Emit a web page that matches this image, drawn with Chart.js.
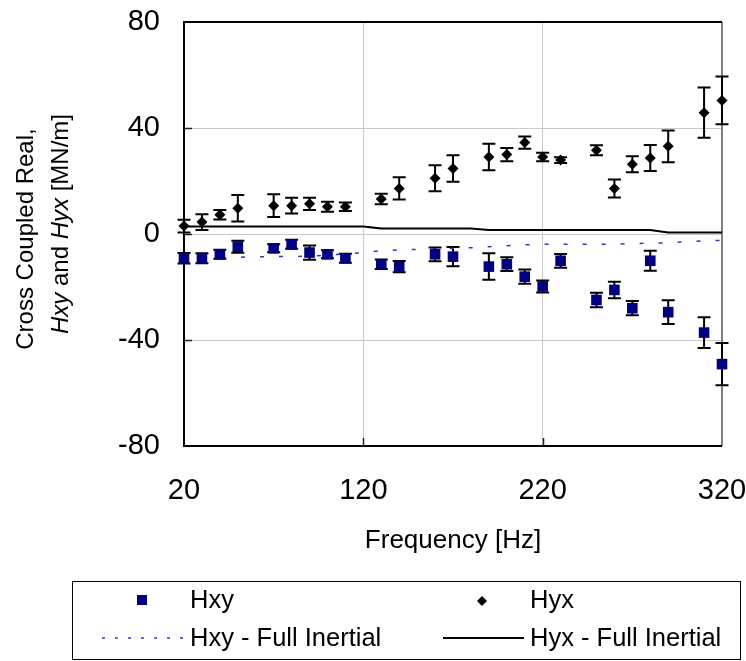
<!DOCTYPE html>
<html>
<head>
<meta charset="utf-8">
<script src="https://cdn.jsdelivr.net/npm/chart.js@4/dist/chart.umd.min.js"></script>
<style>
  html, body { margin: 0; padding: 0; background: #ffffff; }
  #wrap { width: 746px; height: 661px; }
</style>
</head>
<body>
<div id="wrap"><canvas id="c" width="746" height="661"></canvas></div>
<script>
// Measured test frequencies [Hz]
const freq = [20, 30, 40, 50, 70, 80, 90, 100, 110, 130, 140, 160, 170, 190, 200, 210, 220, 230, 250, 260, 270, 280, 290, 310, 320];

// Cross-coupled real stiffness, measured [MN/m]
const hxy = [-9.15, -9.15, -7.65, -4.8, -5.4, -3.9, -7.0, -7.65, -9.15, -11.4, -12.3, -7.65, -8.55, -12.3, -11.4, -16.1, -19.8, -10.1, -24.9, -21.1, -28.0, -10.1, -29.5, -37.2, -49.1];
const hxyErr = [2.0, 1.9, 1.7, 2.3, 1.5, 1.7, 2.7, 1.5, 1.7, 1.8, 2.1, 2.6, 3.6, 5.0, 2.6, 2.7, 2.3, 2.6, 2.7, 3.1, 2.7, 3.8, 4.5, 5.8, 8.0];

const hyx = [3.0, 4.5, 7.3, 9.7, 10.7, 10.7, 11.4, 10.3, 10.3, 13.2, 17.2, 21.0, 24.7, 29.1, 30.0, 34.5, 29.1, 27.9, 31.6, 17.2, 26.3, 28.7, 33.1, 45.8, 50.4];
const hyxErr = [2.4, 3.0, 1.8, 5.0, 4.3, 3.0, 2.3, 1.9, 1.6, 2.0, 4.2, 4.9, 5.0, 5.0, 2.5, 2.3, 1.6, 1.1, 1.9, 3.4, 3.0, 4.9, 6.0, 9.5, 9.0];

// Full inertial model predictions [MN/m]
const modelFreq = [20, 30, 40, 50, 60, 70, 80, 90, 100, 110, 120, 130, 140, 150, 160, 170, 180, 190, 200, 210, 220, 230, 240, 250, 260, 270, 280, 290, 300, 310, 320];
const hxyModel = [-9.2, -9.2, -9.0, -8.8, -8.6, -8.5, -8.5, -8.4, -8.0, -7.5, -7.0, -6.3, -6.0, -5.8, -5.6, -5.4, -5.2, -4.8, -4.4, -4.1, -3.9, -3.9, -3.9, -3.9, -3.8, -3.6, -3.5, -3.3, -2.9, -2.6, -2.4];
const hyxModel = [2.8, 2.8, 2.8, 2.8, 2.8, 2.8, 2.8, 2.8, 2.8, 2.8, 2.8, 2.1, 2.1, 2.1, 2.1, 2.1, 2.1, 1.5, 1.5, 1.5, 1.5, 1.5, 1.5, 1.5, 1.5, 1.5, 1.5, 0.6, 0.6, 0.6, 0.6];

// Axis ticks
const xTicks = [20, 120, 220, 320];
const yTicks = [-80, -40, 0, 40, 80];

const FONT = "'Liberation Sans', Arial, Helvetica, sans-serif";
const NAVY = '#000080';
const DASH_BLUE = '#3535c8';

const pts = (xs, ys) => xs.map((v, i) => ({ x: v, y: ys[i] }));

// Plot frame, inner tick marks and error bars, drawn beneath the markers
const underlay = {
  id: 'underlay',
  beforeDatasetsDraw(chart) {
    const { ctx, chartArea: a, scales: { x, y } } = chart;
    ctx.save();
    // frame
    ctx.lineWidth = 2;
    ctx.strokeStyle = '#808080';
    ctx.beginPath(); ctx.moveTo(a.right, a.top); ctx.lineTo(a.right, a.bottom); ctx.stroke();
    ctx.strokeStyle = '#000';
    ctx.beginPath();
    ctx.moveTo(a.right, a.top); ctx.lineTo(a.left, a.top); ctx.lineTo(a.left, a.bottom); ctx.lineTo(a.right, a.bottom);
    ctx.stroke();
    // inner tick marks
    ctx.lineWidth = 1.5;
    ctx.strokeStyle = '#222';
    ctx.beginPath();
    yTicks.slice(1, -1).forEach(v => {
      const py = Math.round(y.getPixelForValue(v)) + 0.5;
      ctx.moveTo(a.left, py); ctx.lineTo(a.left + 8, py);
    });
    xTicks.slice(1, -1).forEach(v => {
      const px = Math.round(x.getPixelForValue(v)) + 0.5;
      ctx.moveTo(px, a.bottom); ctx.lineTo(px, a.bottom - 8);
    });
    ctx.stroke();
    // error bars
    ctx.lineWidth = 2;
    ctx.strokeStyle = '#000';
    [[hxy, hxyErr], [hyx, hyxErr]].forEach(([vals, errs]) => {
      freq.forEach((f, i) => {
        const px = x.getPixelForValue(f);
        const top = y.getPixelForValue(vals[i] + errs[i]);
        const bot = y.getPixelForValue(vals[i] - errs[i]);
        ctx.beginPath();
        ctx.moveTo(px, top); ctx.lineTo(px, bot);
        ctx.moveTo(px - 6.5, top); ctx.lineTo(px + 6.5, top);
        ctx.moveTo(px - 6.5, bot); ctx.lineTo(px + 6.5, bot);
        ctx.stroke();
      });
    });
    ctx.restore();
  }
};

// Axis titles and the boxed legend
const annotations = {
  id: 'annotations',
  afterDraw(chart) {
    const { ctx, chartArea: a } = chart;
    ctx.save();
    ctx.fillStyle = '#000';

    // x-axis title
    ctx.font = `26px ${FONT}`;
    ctx.textAlign = 'center';
    ctx.textBaseline = 'alphabetic';
    ctx.fillText('Frequency [Hz]', (a.left + a.right) / 2, 548);

    // y-axis title, two rotated lines, variable names in italics
    ctx.save();
    ctx.translate(33, 239);
    ctx.rotate(-Math.PI / 2);
    ctx.font = `24px ${FONT}`;
    ctx.textAlign = 'center';
    ctx.fillText('Cross Coupled Real,', 0, 0);
    ctx.restore();

    const parts = [['Hxy', true], [' and ', false], ['Hyx', true], [' [MN/m]', false]];
    const fontOf = it => `${it ? 'italic ' : ''}24px ${FONT}`;
    let total = 0;
    parts.forEach(([t, it]) => { ctx.font = fontOf(it); total += ctx.measureText(t).width; });
    ctx.save();
    ctx.translate(68, 224);
    ctx.rotate(-Math.PI / 2);
    ctx.textAlign = 'left';
    let cx = -total / 2;
    parts.forEach(([t, it]) => {
      ctx.font = fontOf(it);
      ctx.fillText(t, cx, 0);
      cx += ctx.measureText(t).width;
    });
    ctx.restore();

    // legend box
    ctx.lineWidth = 1;
    ctx.strokeStyle = '#000';
    ctx.strokeRect(72.5, 581.5, 668, 78);

    ctx.font = `25.5px ${FONT}`;
    ctx.textAlign = 'left';
    // Hxy marker
    ctx.fillStyle = NAVY;
    ctx.fillRect(137, 595, 10, 10);
    // Hyx marker
    ctx.fillStyle = '#000';
    ctx.beginPath();
    ctx.moveTo(482, 596); ctx.lineTo(487, 601); ctx.lineTo(482, 606); ctx.lineTo(477, 601);
    ctx.closePath(); ctx.fill();
    // Hxy model line sample
    ctx.strokeStyle = DASH_BLUE;
    ctx.lineWidth = 1.5;
    ctx.setLineDash([3, 10]);
    ctx.beginPath(); ctx.moveTo(102, 638); ctx.lineTo(186, 638); ctx.stroke();
    ctx.setLineDash([]);
    // Hyx model line sample
    ctx.strokeStyle = '#000';
    ctx.lineWidth = 2;
    ctx.beginPath(); ctx.moveTo(443, 638); ctx.lineTo(524, 638); ctx.stroke();

    ctx.fillStyle = '#000';
    ctx.fillText('Hxy', 190, 607.5);
    ctx.fillText('Hyx', 530, 607.5);
    ctx.fillText('Hxy - Full Inertial', 190, 646);
    ctx.fillText('Hyx - Full Inertial', 530, 646);
    ctx.restore();
  }
};

new Chart(document.getElementById('c'), {
  type: 'scatter',
  data: {
    datasets: [
      { label: 'Hxy', data: pts(freq, hxy), pointStyle: 'rect', pointRadius: 7.5,
        backgroundColor: NAVY, borderColor: NAVY, borderWidth: 0, showLine: false, clip: false },
      { label: 'Hyx', data: pts(freq, hyx), pointStyle: 'rectRot', pointRadius: 5.5,
        backgroundColor: '#000', borderColor: '#000', borderWidth: 0, showLine: false, clip: false },
      { label: 'Hxy - Full Inertial', data: pts(modelFreq, hxyModel), showLine: true, pointRadius: 0,
        borderColor: DASH_BLUE, borderWidth: 1.5, borderDash: [4, 15], tension: 0, clip: false },
      { label: 'Hyx - Full Inertial', data: pts(modelFreq, hyxModel), showLine: true, pointRadius: 0,
        borderColor: '#000', borderWidth: 2, tension: 0, clip: false }
    ]
  },
  options: {
    responsive: false,
    animation: false,
    devicePixelRatio: 1,
    events: [],
    layout: { padding: 0 },
    plugins: { legend: { display: false }, tooltip: { enabled: false } },
    scales: {
      x: {
        type: 'linear', min: 20, max: 320,
        afterBuildTicks: s => { s.ticks = xTicks.map(v => ({ value: v })); },
        afterFit: s => { s.height = 215; s.paddingLeft = 0; s.paddingRight = 24; },
        ticks: { font: { family: FONT, size: 29 }, color: '#000', padding: 28, maxRotation: 0 },
        grid: {
          drawTicks: false, lineWidth: 1,
          color: c => (c.tick && (c.tick.value === 20 || c.tick.value === 320)) ? 'rgba(0,0,0,0)' : '#c8c8c8'
        },
        border: { display: false }
      },
      y: {
        type: 'linear', min: -80, max: 80,
        afterBuildTicks: s => { s.ticks = yTicks.map(v => ({ value: v })); },
        afterFit: s => { s.width = 184; s.paddingTop = 22; s.paddingBottom = 0; },
        ticks: { font: { family: FONT, size: 29 }, color: '#000', padding: 24 },
        grid: {
          drawTicks: false, lineWidth: 1,
          color: c => (c.tick && (c.tick.value === -80 || c.tick.value === 80)) ? 'rgba(0,0,0,0)' : '#c8c8c8'
        },
        border: { display: false }
      }
    }
  },
  plugins: [underlay, annotations]
});
</script>
</body>
</html>
